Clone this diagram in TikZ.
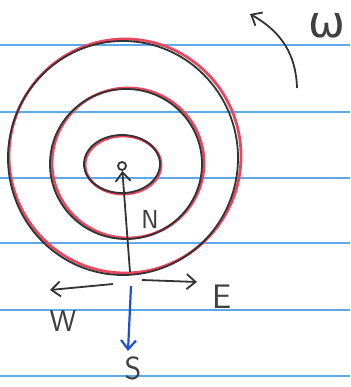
\documentclass[tikz,border=0pt]{standalone}
\usepackage{fontspec}
\newfontfamily\omegafont{DejaVu Sans}
\usetikzlibrary{arrows.meta}
\definecolor{ruleblue}{RGB}{95,170,230}
\definecolor{penred}{RGB}{235,70,95}
\definecolor{inkblue}{RGB}{30,80,210}
\begin{document}
\begin{tikzpicture}[x=1pt, y=-1pt,
    rule/.style={ruleblue, line width=1.6pt},
    ring/.style={line width=1.8pt, black!80},
    redring/.style={line width=2.8pt, penred},
    arr/.style={-{Straight Barb[length=9pt,width=15pt]}, line width=1.8pt, black!80},
    lbl/.style={font=\sffamily\fontsize{34}{36}\selectfont, black!75}]
        \useasboundingbox (0,0) rectangle (350,387);
        \fill[white] (0,0) rectangle (350,387);
        % ruled paper
        \foreach \y in {45,112,178,243,310,376} \draw[rule] (0,\y) -- (350,\y);
        % rings, red pen under black pen
        \draw[redring] (125,156) ellipse [x radius=116, y radius=117];
        \draw[ring] (123,158) ellipse [x radius=115, y radius=117];
        \draw[redring] (128,163) ellipse [x radius=76, y radius=75];
        \draw[ring] (126,164) ellipse [x radius=76, y radius=75];
        \draw[redring] (123,165) ellipse [x radius=38, y radius=29];
        \draw[ring] (122,164) ellipse [x radius=38, y radius=29];
        % centre and north
        \node[draw, circle, line width=1.8pt, black!80, minimum size=8pt, inner sep=0pt] (ctr) at (122,166) {};
        \coordinate (base) at (130,272);
        \draw[arr] (base) -- (ctr);
        \node[lbl, font=\sffamily\fontsize{26}{28}\selectfont] (lblN) at (150,219) {N};
        % compass at the bottom point
        \coordinate (eStart) at (142,280);  \coordinate (eEnd) at (197,282);
        \coordinate (wStart) at (113,284);  \coordinate (wEnd) at (50,290);
        \coordinate (sStart) at (131,286);  \coordinate (sEnd) at (128,351);
        \draw[arr] (eStart) -- (eEnd);
        \draw[arr] (wStart) -- (wEnd);
        \draw[arr, inkblue, line width=2.2pt] (sStart) -- (sEnd);
        \node[lbl] (lblE) at (222,297) {E};
        \node[lbl, font=\sffamily\fontsize{30}{32}\selectfont] (lblW) at (63,321) {W};
        \node[lbl, font=\sffamily\fontsize{32}{34}\selectfont] (lblS) at (133,368) {S};
        % spin
        \coordinate (spinTail) at (297,88);
        \coordinate (spinHead) at (250,14);
        \draw[arr] (spinTail) .. controls (296,55) and (282,32) .. (spinHead);
        \node[black!75, inner sep=0pt, font=\omegafont\fontsize{44}{46}\selectfont] (lblOmega) at (327,26) {ω};
      \end{tikzpicture}
\end{document}
